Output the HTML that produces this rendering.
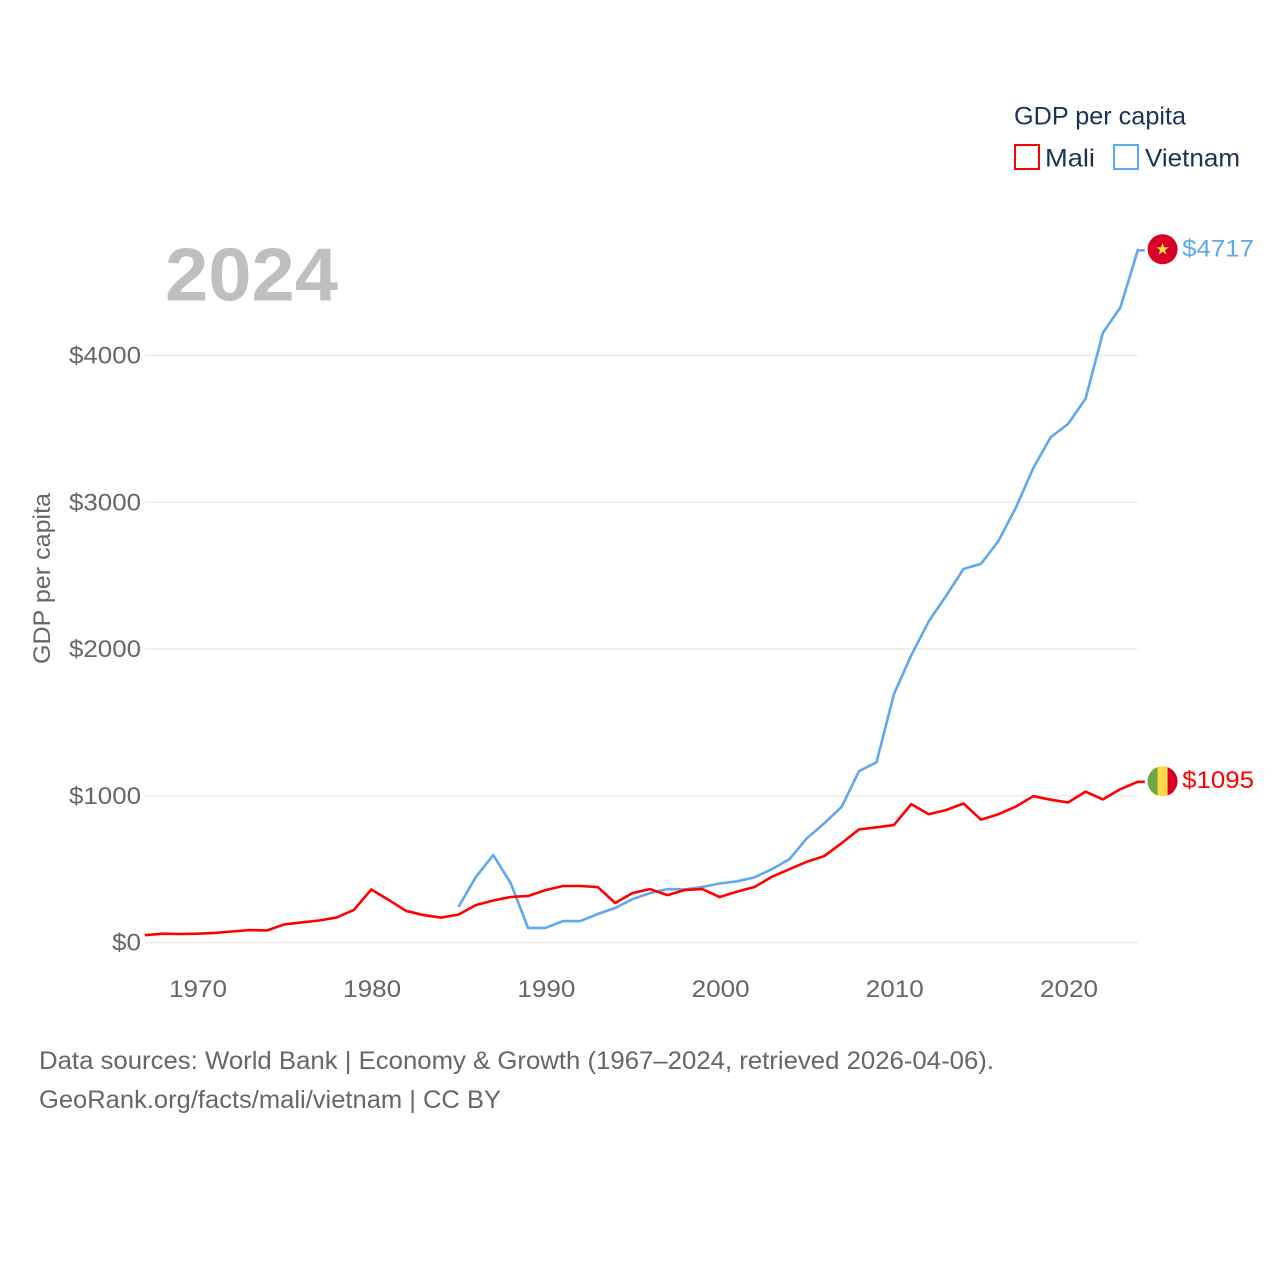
<!DOCTYPE html>
<html lang="en">
<head>
<meta charset="utf-8">
<title>GDP per capita: Mali and Vietnam</title>
<style>
html,body{margin:0;padding:0;background:#fff;}
svg{display:block;font-family:"Liberation Sans",sans-serif;}
</style>
</head>
<body>
<svg id="chart" xmlns="http://www.w3.org/2000/svg" width="1280" height="1280" viewBox="0 0 1280 1280">
  <rect width="1280" height="1280" fill="#ffffff"/>
  <g id="grid"></g>
  <g id="yticks"></g>
  <g id="xticks"></g>
  <text x="165" y="300.5" font-size="75" font-weight="700" fill="#bfbfbf" textLength="173" lengthAdjust="spacingAndGlyphs">2024</text>
  <text transform="translate(50,664) rotate(-90)" font-size="24" fill="#666666" textLength="171" lengthAdjust="spacingAndGlyphs">GDP per capita</text>
  <g id="series"></g>
  <g id="ends"></g>
  <g>
    <text x="1014" y="124.5" font-size="25" fill="#1a3352" textLength="172" lengthAdjust="spacingAndGlyphs">GDP per capita</text>
    <rect x="1015" y="145" width="24" height="24" fill="none" stroke="#ff0000" stroke-width="2"/>
    <text x="1045" y="166.5" font-size="25" fill="#1a3352" textLength="50" lengthAdjust="spacingAndGlyphs">Mali</text>
    <rect x="1114" y="145" width="24" height="24" fill="none" stroke="#5fa8ee" stroke-width="2"/>
    <text x="1145" y="166.5" font-size="25" fill="#1a3352" textLength="95" lengthAdjust="spacingAndGlyphs">Vietnam</text>
  </g>
  <text x="39" y="1069" font-size="25" fill="#666666" textLength="955" lengthAdjust="spacingAndGlyphs">Data sources: World Bank | Economy &amp; Growth (1967–2024, retrieved 2026-04-06).</text>
  <text x="39" y="1108" font-size="25" fill="#666666" textLength="462" lengthAdjust="spacingAndGlyphs">GeoRank.org/facts/mali/vietnam | CC BY</text>
</svg>
<script>
const years = [1967,1968,1969,1970,1971,1972,1973,1974,1975,1976,1977,1978,1979,1980,1981,1982,1983,1984,1985,1986,1987,1988,1989,1990,1991,1992,1993,1994,1995,1996,1997,1998,1999,2000,2001,2002,2003,2004,2005,2006,2007,2008,2009,2010,2011,2012,2013,2014,2015,2016,2017,2018,2019,2020,2021,2022,2023,2024];
const maliValues = [50,60,58,60,65,75,85,82,123,137,150,170,222,361,290,215,187,170,190,255,286,310,317,357,385,385,378,269,337,364,323,358,364,310,347,378,448,500,550,589,677,771,785,800,943,874,903,947,837,874,926,997,973,954,1028,975,1045,1095];
const vietnamYears = [1985,1986,1987,1988,1989,1990,1991,1992,1993,1994,1995,1996,1997,1998,1999,2000,2001,2002,2003,2004,2005,2006,2007,2008,2009,2010,2011,2012,2013,2014,2015,2016,2017,2018,2019,2020,2021,2022,2023,2024];
const vietnamValues = [242,446,596,405,99,99,146,146,194,235,296,337,364,362,378,402,417,444,500,567,710,812,925,1168,1228,1692,1958,2188,2363,2546,2580,2736,2963,3233,3443,3534,3705,4155,4327,4717];
const yTicks = [0,1000,2000,3000,4000];
const xTicks = [1970,1980,1990,2000,2010,2020];

const NS = 'http://www.w3.org/2000/svg';
function xScale(year){ return 197.1 + (year - 1970) * 17.42; }
function yScale(value){ return 942.5 - value * 0.14675; }
function make(tag, parent, props, content){
  const node = document.createElementNS(NS, tag);
  for (const k in props) node.setAttribute(k, props[k]);
  if (content !== undefined) node.textContent = content;
  parent.appendChild(node);
  return node;
}
const gridG = document.getElementById('grid');
const yG = document.getElementById('yticks');
const xG = document.getElementById('xticks');
const seriesG = document.getElementById('series');
const endsG = document.getElementById('ends');
const xLeft = xScale(years[0]);
const xRight = xScale(years[years.length - 1]);

yTicks.forEach(function(t){
  const line = make('line', gridG, {x1:xLeft, x2:xRight, y1:yScale(t), y2:yScale(t), stroke:'#ebebeb', 'stroke-width':1.5});
  
  
  const label = '$' + t;
  const lab = make('text', yG, {x:141, y:yScale(t)+8, 'text-anchor':'end', 'font-size':24.5, fill:'#666666', textLength:(label.length===2?29:72), lengthAdjust:'spacingAndGlyphs'}, label);
  
  
});
xTicks.forEach(function(t){
  const lab = make('text', xG, {x:xScale(t)+0.9, y:997, 'text-anchor':'middle', 'font-size':24.5, fill:'#666666', textLength:58, lengthAdjust:'spacingAndGlyphs'}, String(t));
  
  
});

function drawSeries(xs, vs, color, name){
  const pts = xs.map(function(y, i){ return xScale(y).toFixed(2) + ',' + yScale(vs[i]).toFixed(2); });
  const lastY = yScale(vs[vs.length - 1]);
  pts.push((xScale(xs[xs.length - 1]) + 7).toFixed(2) + ',' + lastY.toFixed(2));
  const line = make('polyline', seriesG, {points:pts.join(' '), fill:'none', stroke:color, 'stroke-width':2.6, 'stroke-linejoin':'round'});
  
  
}
drawSeries(vietnamYears, vietnamValues, '#5fa8ee', 'vietnam-line');
drawSeries(years, maliValues, '#ff0000', 'mali-line');

const flagX = xRight + 24.8;
function endLabel(value, color, name){
  const lab = make('text', endsG, {x:flagX + 19.5, y:yScale(value) + 6, 'font-size':24.5, fill:color, textLength:72, lengthAdjust:'spacingAndGlyphs'}, '$' + value);
  
  
}
/* Vietnam flag */
const vY = yScale(vietnamValues[vietnamValues.length - 1]) - 1;
const vFlag = make('g', endsG, {transform:'translate(' + flagX + ',' + vY + ')'});


make('circle', vFlag, {r:15, fill:'#d80027'});
make('polygon', vFlag, {points:'0,-6.5 1.6,-2 6.2,-2 2.5,0.8 3.9,5.3 0,2.6 -3.9,5.3 -2.5,0.8 -6.2,-2 -1.6,-2', fill:'#ffda44'});
endLabel(vietnamValues[vietnamValues.length - 1], '#5fa8ee', 'vietnam-value-label');
/* Mali flag */
const mY = yScale(maliValues[maliValues.length - 1]) - 0.5;
const mFlag = make('g', endsG, {transform:'translate(' + flagX + ',' + mY + ')'});


make('circle', mFlag, {r:15, fill:'#ffda44'});
make('path', mFlag, {d:'M-5,-14.14 A15,15 0 0 0 -5,14.14 Z', fill:'#6da544'});
make('path', mFlag, {d:'M5,-14.14 A15,15 0 0 1 5,14.14 Z', fill:'#d80027'});
endLabel(maliValues[maliValues.length - 1], '#ff0000', 'mali-value-label');
</script>
</body>
</html>
